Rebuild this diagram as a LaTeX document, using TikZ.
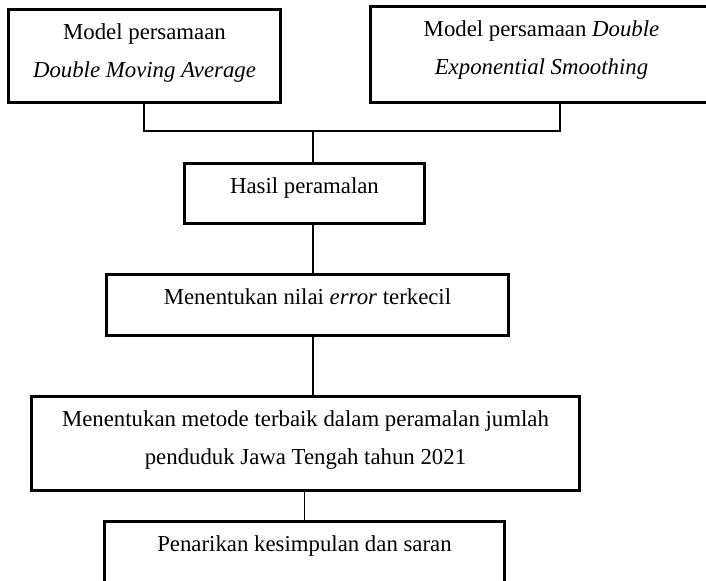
\documentclass[tikz,border=0pt]{standalone}
\usepackage{fontspec}
\setmainfont{Liberation Serif}
\usepackage{tikz}
\usetikzlibrary{positioning,calc}

\newcommand{\stagetext}[3]{\parbox[c][#2][t]{#1}{\centering\rule{0pt}{15pt}#3\par}}

\begin{document}
\begin{tikzpicture}[
    x=0.5pt, y=-0.5pt,
    stage/.style={draw, line width=1.5pt, inner sep=0pt, anchor=north west, font=\fontsize{11.4}{19}\selectfont},
    link/.style={draw, line width=0.8pt}
]
    \clip (0,0) rectangle (706,580);

    \node[stage] (m1) at (7,8) {\stagetext{136pt}{46.5pt}{Model persamaan\\ \textit{Double Moving Average}}};
    \node[stage] (m2) at (369,5) {\stagetext{171pt}{48pt}{Model persamaan \textit{Double}\\ \textit{Exponential Smoothing}}};
    \node[stage] (hasil) at (183,162) {\stagetext{120pt}{30pt}{Hasil peramalan}};
    \node[stage] (error) at (105,273) {\stagetext{201pt}{30.5pt}{Menentukan nilai \textit{error} terkecil}};
    \node[stage] (metode) at (30,395) {\stagetext{274pt}{47pt}{Menentukan metode terbaik dalam peramalan jumlah\\ penduduk Jawa Tengah tahun 2021}};
    \node[stage] (simpul) at (103,520) {\stagetext{200pt}{40pt}{Penarikan kesimpulan dan saran}};

    \coordinate (forkL) at (144,131);
    \coordinate (forkR) at (560,131);
    \coordinate (fork) at (313,131);

    \draw[link] (m1.south -| forkL) -- (forkL) -- (forkR) -- (m2.south -| forkR);
    \draw[link] (fork) -- (hasil.north -| fork);
    \draw[link] (hasil.south -| fork) -- (error.north -| fork);
    \draw[link] (error.south -| fork) -- (metode.north -| fork);
    \draw[link] (simpul.north) -- (simpul.north |- metode.south);
\end{tikzpicture}
\end{document}
